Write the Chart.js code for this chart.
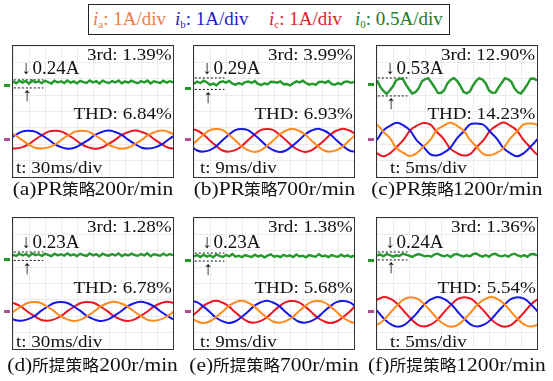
<!DOCTYPE html>
<html>
<head>
<meta charset="utf-8">
<script src="https://cdn.jsdelivr.net/npm/chart.js@4.4.0/dist/chart.umd.min.js"></script>
<style>
body { margin: 0; background: #fff; width: 553px; height: 381px; position: relative; overflow: hidden;
       font-family: "Liberation Serif", "Times New Roman", "Noto Sans CJK SC", serif; }
.legend { position: absolute; left: 88px; top: 4px; width: 360px; height: 29px; border: 1.5px solid #222; }
.legend span.item { position: absolute; top: 3px; font-size: 19px; white-space: nowrap; }
.legend i { font-style: italic; }
.legend sub { font-size: 11px; vertical-align: -3px; }
.panel { position: absolute; width: 160px; height: 131px; border: 1.5px solid #333; }
.panel canvas { position: absolute; left: 0; top: 0; }
.txt { position: absolute; font-size: 17px; line-height: 17px; white-space: nowrap; color: #111; }
.cap { position: absolute; width: 200px; text-align: center; font-size: 19.5px; line-height: 20px; white-space: nowrap; color: #111; }
.cap .in { display: inline-block; transform: scaleX(1.1); }
.cap .cjk { display: inline-block; font-family: "Noto Sans CJK SC", sans-serif; font-size: 16px; line-height: 20px;
            transform: scaleX(0.95); margin: 0 -1.6px; }
.mark { position: absolute; width: 6px; height: 3px; }
</style>
</head>
<body>
<div class="legend">
  <span class="item" style="left:4px;color:#ef7b45"><i>i</i><sub>a</sub>: 1A/div</span>
  <span class="item" style="left:86px;color:#1c1cc4"><i>i</i><sub>b</sub>: 1A/div</span>
  <span class="item" style="left:180px;color:#e01c2c"><i>i</i><sub>c</sub>: 1A/div</span>
  <span class="item" style="left:266px;color:#227a22"><i>i</i><sub>0</sub>: 0.5A/div</span>
</div>
<script>
// scope screen: 10 x 8 divisions, values below are in divisions
const t = [0,0.2,0.4,0.6,0.8,1,1.2,1.4,1.6,1.8,2,2.2,2.4,2.6,2.8,3,3.2,3.4,3.6,3.8,4,4.2,4.4,4.6,4.8,5,
           5.2,5.4,5.6,5.8,6,6.2,6.4,6.6,6.8,7,7.2,7.4,7.6,7.8,8,8.2,8.4,8.6,8.8,9,9.2,9.4,9.6,9.8,10];

// (a) PR 200r/min
const aGreen = [5.84,5.72,5.88,5.76,5.86,5.70,5.89,5.78,5.85,5.73,5.87,5.80,5.71,5.88,5.77,5.85,5.74,5.89,5.76,5.84,5.72,5.87,5.79,5.74,5.90,5.77,
                5.85,5.71,5.88,5.79,5.74,5.86,5.77,5.89,5.72,5.84,5.76,5.88,5.79,5.73,5.86,5.77,5.89,5.71,5.85,5.79,5.74,5.88,5.76,5.85,5.78];
const aTime = [-0.7,-0.283,0.133,0.55,0.967,1.383,1.8,2.217,2.633,3.05,3.467,3.883,4.3,4.717,5.133,5.55,5.967,6.383,6.8,7.217,
               7.633,8.05,8.467,8.883,9.3,9.717,10.133,10.55];
const aIa = [2.84,2.75,2.57,2.27,2.01,1.79,1.74,1.81,1.99,2.29,2.55,2.77,2.82,2.77,2.55,2.29,1.99,1.81,1.72,1.80,2.02,2.27,2.57,2.75,2.84,2.75,2.57,2.27];
const aIb = [1.99,2.29,2.55,2.77,2.82,2.77,2.55,2.29,1.99,1.81,1.72,1.80,2.02,2.27,2.57,2.75,2.84,2.75,2.57,2.27,2.01,1.79,1.74,1.81,1.99,2.29,2.55,2.77];
const aIc = [2.02,1.79,1.74,1.81,1.99,2.29,2.55,2.77,2.82,2.77,2.55,2.29,1.99,1.81,1.72,1.80,2.02,2.27,2.57,2.75,2.84,2.75,2.57,2.27,2.01,1.79,1.74,1.81];

// (b) PR 700r/min
const bGreen = [5.70,5.82,5.74,5.88,5.79,5.62,5.70,5.60,5.78,5.84,5.76,5.86,5.70,5.64,5.74,5.66,5.80,5.83,5.74,5.86,5.68,5.62,5.72,5.65,5.82,5.80,
                5.76,5.84,5.66,5.68,5.60,5.72,5.84,5.78,5.88,5.74,5.64,5.70,5.62,5.80,5.82,5.75,5.86,5.68,5.63,5.73,5.66,5.81,5.84,5.75,5.80];
const bTime = [-0.2,0.197,0.593,0.99,1.387,1.783,2.18,2.577,2.973,3.37,3.767,4.163,4.56,4.957,5.353,5.75,6.147,6.543,6.94,7.337,
               7.733,8.13,8.527,8.923,9.32,9.717,10.113,10.51];
const bIa = [1.88,2.25,2.58,2.86,2.93,2.86,2.58,2.25,1.88,1.64,1.53,1.62,1.90,2.23,2.60,2.84,2.95,2.84,2.60,2.23,1.90,1.62,1.55,1.64,1.88,2.25,2.58,2.86];
const bIb = [1.90,1.62,1.55,1.64,1.88,2.25,2.58,2.86,2.93,2.86,2.58,2.25,1.88,1.64,1.53,1.62,1.90,2.23,2.60,2.84,2.95,2.84,2.60,2.23,1.90,1.62,1.55,1.64];
const bIc = [2.95,2.84,2.60,2.23,1.90,1.62,1.55,1.64,1.88,2.25,2.58,2.86,2.93,2.86,2.58,2.25,1.88,1.64,1.53,1.62,1.90,2.23,2.60,2.84,2.95,2.84,2.60,2.23];

// (c) PR 1200r/min
const cGreen = [5.90,5.52,5.26,5.08,5.28,5.54,5.91,5.99,6.01,5.66,5.36,5.10,5.18,5.41,5.83,5.97,6.04,5.77,5.48,5.14,5.13,5.30,5.71,5.93,6.05,5.87,
                5.59,5.20,5.11,5.22,5.59,5.87,6.04,5.94,5.71,5.28,5.14,5.15,5.47,5.76,6.03,5.97,5.81,5.41,5.17,5.10,5.36,5.65,6.00,6.01,5.90];
const cTime = [-0.43,-0.013,0.403,0.82,1.237,1.653,2.07,2.487,2.903,3.32,3.737,4.153,4.57,4.987,5.403,5.82,6.237,6.653,7.07,7.487,
               7.903,8.32,8.737,9.153,9.57,9.987,10.403];
const cIa = [3.26,3.20,2.76,2.36,1.74,1.47,1.28,1.46,1.86,2.25,2.86,3.12,3.31,3.14,2.84,2.26,1.83,1.40,1.33,1.48,1.76,2.34,2.77,3.20,3.27,3.19,2.78];
const cIb = [1.84,2.26,2.85,3.13,3.32,3.15,2.83,2.24,1.85,1.40,1.32,1.47,1.77,2.35,2.76,3.21,3.26,3.19,2.76,2.35,1.76,1.46,1.27,1.44,1.83,2.27,2.84];
const cIc = [1.77,1.46,1.27,1.46,1.84,2.26,2.85,3.13,3.30,3.21,2.75,2.35,1.75,1.47,1.31,1.40,1.84,2.25,2.83,3.14,3.33,3.14,2.84,2.26,1.83,1.40,1.33];

// (d) proposed 200r/min
const dGreen = [5.76,5.68,5.82,5.71,5.80,5.66,5.83,5.73,5.79,5.69,5.81,5.75,5.67,5.82,5.72,5.79,5.70,5.84,5.72,5.78,5.68,5.81,5.74,5.69,5.83,5.72,
                5.79,5.66,5.82,5.74,5.70,5.80,5.72,5.83,5.67,5.78,5.71,5.82,5.74,5.69,5.80,5.72,5.84,5.66,5.79,5.74,5.69,5.82,5.71,5.80,5.73];
const dTime = [-0.35,0.067,0.483,0.9,1.317,1.733,2.15,2.567,2.983,3.4,3.817,4.233,4.65,5.067,5.483,5.9,6.317,6.733,7.15,7.567,
               7.983,8.4,8.817,9.233,9.65,10.067,10.483];
const dIa = [2.00,2.31,2.58,2.81,2.87,2.81,2.58,2.31,2.00,1.81,1.71,1.79,2.02,2.29,2.60,2.79,2.89,2.79,2.60,2.29,2.02,1.79,1.73,1.81,2.00,2.31,2.58];
const dIb = [2.02,1.79,1.73,1.81,2.00,2.31,2.58,2.81,2.87,2.81,2.58,2.31,2.00,1.81,1.71,1.79,2.02,2.29,2.60,2.79,2.89,2.79,2.60,2.29,2.02,1.79,1.73];
const dIc = [2.89,2.79,2.60,2.29,2.02,1.79,1.73,1.81,2.00,2.31,2.58,2.81,2.87,2.81,2.58,2.31,2.00,1.81,1.71,1.79,2.02,2.29,2.60,2.79,2.89,2.79,2.60];

// (e) proposed 700r/min
const eGreen = [5.66,5.74,5.62,5.76,5.64,5.72,5.60,5.78,5.68,5.62,5.74,5.66,5.80,5.64,5.70,5.61,5.74,5.67,5.62,5.76,5.65,5.72,5.60,5.70,5.78,5.64,
                5.69,5.61,5.75,5.66,5.72,5.62,5.77,5.65,5.70,5.60,5.74,5.68,5.63,5.79,5.66,5.71,5.61,5.74,5.67,5.63,5.76,5.65,5.72,5.62,5.70];
const eTime = [-0.22,0.177,0.573,0.97,1.367,1.763,2.16,2.557,2.953,3.35,3.747,4.143,4.54,4.937,5.333,5.73,6.127,6.523,6.92,7.317,
               7.713,8.11,8.507,8.903,9.3,9.697,10.093,10.49];
const eIa = [1.92,1.70,1.59,1.68,1.94,2.26,2.62,2.84,2.95,2.84,2.62,2.26,1.94,1.68,1.61,1.70,1.92,2.28,2.60,2.86,2.93,2.86,2.60,2.28,1.92,1.70,1.59,1.68];
const eIb = [2.93,2.86,2.60,2.28,1.92,1.70,1.59,1.68,1.94,2.26,2.62,2.84,2.95,2.84,2.62,2.26,1.94,1.68,1.61,1.70,1.92,2.28,2.60,2.86,2.93,2.86,2.60,2.28];
const eIc = [1.94,2.26,2.62,2.84,2.95,2.84,2.62,2.26,1.94,1.68,1.61,1.70,1.92,2.28,2.60,2.86,2.93,2.86,2.60,2.28,1.92,1.70,1.59,1.68,1.94,2.26,2.62,2.84];

// (f) proposed 1200r/min
const fGreen = [5.70,5.78,5.66,5.80,5.74,5.64,5.72,5.68,5.82,5.76,5.70,5.62,5.74,5.80,5.73,5.66,5.70,5.64,5.78,5.82,5.72,5.66,5.74,5.62,5.76,5.80,
                5.71,5.65,5.72,5.66,5.79,5.83,5.72,5.64,5.74,5.63,5.78,5.81,5.70,5.66,5.73,5.64,5.77,5.82,5.71,5.65,5.74,5.63,5.79,5.80,5.72];
const fTime = [-0.363,0.053,0.47,0.887,1.303,1.72,2.137,2.553,2.97,3.387,3.803,4.22,4.637,5.053,5.47,5.887,6.303,6.72,7.137,7.553,
               7.97,8.387,8.803,9.22,9.637,10.053,10.47];
const fIa = [1.38,1.50,1.81,2.28,2.71,3.06,3.16,3.06,2.71,2.28,1.81,1.50,1.36,1.48,1.83,2.26,2.73,3.04,3.18,3.04,2.73,2.26,1.83,1.48,1.38,1.50,1.81];
const fIb = [2.71,2.28,1.81,1.50,1.36,1.48,1.83,2.26,2.73,3.04,3.18,3.04,2.73,2.26,1.83,1.48,1.38,1.50,1.81,2.28,2.71,3.06,3.16,3.06,2.71,2.28,1.81];
const fIc = [2.73,3.04,3.18,3.04,2.73,2.26,1.83,1.48,1.38,1.50,1.81,2.28,2.71,3.06,3.16,3.06,2.71,2.28,1.81,1.50,1.36,1.48,1.83,2.26,2.73,3.04,3.18];

const thirdText = ['1.39%','3.99%','12.90%','1.28%','1.38%','1.36%'];
const thdText = ['6.84%','6.93%','14.23%','6.78%','5.68%','5.54%'];
const rippleText = ['0.24A','0.29A','0.53A','0.23A','0.23A','0.24A'];
const rippleTop = [5.93,6.05,6.05,5.92,5.86,5.92];
const rippleBot = [5.44,5.35,4.95,5.41,5.37,5.44];
const timeText = ['30ms/div','9ms/div','5ms/div','30ms/div','9ms/div','5ms/div'];
const captions = ['(a)PR策略200r/min','(b)PR策略700r/min','(c)PR策略1200r/min',
                  '(d)所提策略200r/min','(e)所提策略700r/min','(f)所提策略1200r/min'];

// layout
const panelX = [13,194,377,13,194,377];
const panelY = [46,46,46,218,218,218];
const timeLeft = [3,6,13,3,6,13];
const W = 160, H = 131;

const C_A = '#ff8a1c', C_B = '#1616e6', C_C = '#ec1620', C_0 = '#22992a';

function pts(xs, ys) { return xs.map((x, i) => ({x: x, y: ys[i]})); }

function makePanel(k, green, time, ia, ib, ic) {
  const row2 = k >= 3;
  const box = document.createElement('div');
  box.className = 'panel';
  box.style.left = (panelX[k] - 1.5) + 'px';
  box.style.top = (panelY[k] - 1.5) + 'px';
  const cv = document.createElement('canvas');
  cv.width = W; cv.height = H;
  box.appendChild(cv);
  document.body.appendChild(box);

  const addTxt = (html, css) => {
    const d = document.createElement('div');
    d.className = 'txt'; d.innerHTML = html;
    Object.assign(d.style, css);
    box.appendChild(d);
  };
  const yPx = v => (8 - v) * H / 8;
  addTxt('3rd: ' + thirdText[k], {right: '1px', top: '0px', transform: 'scaleX(1.12)', transformOrigin: 'right'});
  addTxt('&darr;', {left: '9px', top: (row2 ? 14 : 12) + 'px', fontSize: '19px', lineHeight: '19px'});
  addTxt(rippleText[k], {left: '20px', top: (row2 ? 14 : 12) + 'px', fontSize: '19px', lineHeight: '19px'});
  addTxt('&uarr;', {left: '10px', top: (yPx(rippleBot[k]) - 2) + 'px', fontSize: '19px', lineHeight: '19px'});
  addTxt('THD: ' + thdText[k], {right: '1px', top: (row2 ? 61 : 59) + 'px', transform: 'scaleX(1.12)', transformOrigin: 'right'});
  addTxt('t: ' + timeText[k], {left: timeLeft[k] + 'px', top: (row2 ? 115 : 113) + 'px', transform: 'scaleX(1.12)', transformOrigin: 'left'});

  // channel ground markers left of the screen
  const mk = (v, col) => {
    const m = document.createElement('div');
    m.className = 'mark';
    m.style.background = col;
    m.style.left = (panelX[k] - 9) + 'px';
    m.style.top = (panelY[k] + yPx(v) - 1) + 'px';
    document.body.appendChild(m);
  };
  mk(green[0] - 0.25, C_0);
  mk(2.3, '#b05090');

  const cap = document.createElement('div');
  cap.className = 'cap';
  cap.innerHTML = '<span class="in">' + captions[k].replace(/([\u4e00-\u9fff]+)/g, '<span class="cjk">$1</span>') + '</span>';
  cap.style.left = (panelX[k] + W / 2 - 100) + 'px';
  cap.style.top = (panelY[k] + (row2 ? 136 : 132)) + 'px';
  document.body.appendChild(cap);

  const phase = (ys, col) => ({data: pts(time, ys), borderColor: col, borderWidth: 2, tension: 0.4, pointRadius: 0});
  const dash = v => ({data: [{x: 0.05, y: v}, {x: 1.9, y: v}], borderColor: '#111', borderWidth: 1, borderDash: [2, 2], pointRadius: 0});
  new Chart(cv, {
    type: 'line',
    data: {
      datasets: [
        {data: pts(t, green), borderColor: C_0, borderWidth: 2.4, tension: 0, pointRadius: 0},
        dash(rippleTop[k]), dash(rippleBot[k]),
        phase(ia, C_A), phase(ib, C_B), phase(ic, C_C)
      ]
    },
    options: {
      responsive: false, animation: false,
      layout: {padding: 0},
      plugins: {legend: {display: false}, tooltip: {enabled: false}},
      scales: {
        x: {type: 'linear', min: 0, max: 10, ticks: {display: false, stepSize: 1},
            grid: {color: '#ececec', drawTicks: false}, border: {display: false}},
        y: {min: 0, max: 8, ticks: {display: false, stepSize: 1},
            grid: {color: '#ececec', drawTicks: false}, border: {display: false}}
      }
    }
  });
}

makePanel(0, aGreen, aTime, aIa, aIb, aIc);
makePanel(1, bGreen, bTime, bIa, bIb, bIc);
makePanel(2, cGreen, cTime, cIa, cIb, cIc);
makePanel(3, dGreen, dTime, dIa, dIb, dIc);
makePanel(4, eGreen, eTime, eIa, eIb, eIc);
makePanel(5, fGreen, fTime, fIa, fIb, fIc);
</script>
</body>
</html>
